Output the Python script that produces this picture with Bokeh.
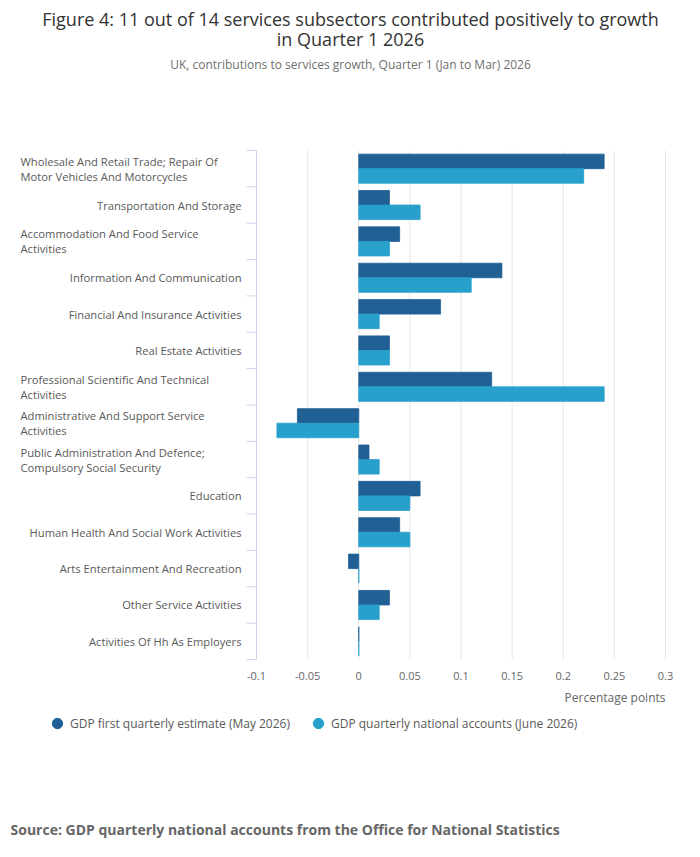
import math
from bokeh.plotting import figure
from bokeh.models import ColumnDataSource, Legend, LegendItem, Range1d, Label
from bokeh.embed import file_html
from bokeh.resources import INLINE
from bokeh.core.properties import value

# ---------------- data ----------------
categories = [
    "Wholesale And Retail Trade; Repair Of\nMotor Vehicles And Motorcycles",
    "Transportation And Storage",
    "Accommodation And Food Service\nActivities",
    "Information And Communication",
    "Financial And Insurance Activities",
    "Real Estate Activities",
    "Professional Scientific And Technical\nActivities",
    "Administrative And Support Service\nActivities",
    "Public Administration And Defence;\nCompulsory Social Security",
    "Education",
    "Human Health And Social Work Activities",
    "Arts Entertainment And Recreation",
    "Other Service Activities",
    "Activities Of Hh As Employers",
]
first_estimate = [0.24, 0.03, 0.04, 0.14, 0.08, 0.03, 0.13, -0.06, 0.01, 0.06, 0.04, -0.01, 0.03, 0.0]
national_accounts = [0.22, 0.06, 0.03, 0.11, 0.02, 0.03, 0.24, -0.08, 0.02, 0.05, 0.05, 0.0, 0.02, 0.0]
series_names = ["GDP first quarterly estimate (May 2026)", "GDP quarterly national accounts (June 2026)"]
series_colors = ["#206095", "#27a0cc"]
x_ticks = [-0.1, -0.05, 0, 0.05, 0.1, 0.15, 0.2, 0.25, 0.3]
x_tick_labels = ["-0.1", "-0.05", "0", "0.05", "0.1", "0.15", "0.2", "0.25", "0.3"]

title_lines = ["Figure 4: 11 out of 14 services subsectors contributed positively to growth", "in Quarter 1 2026"]
subtitle = "UK, contributions to services growth, Quarter 1 (Jan to Mar) 2026"
x_axis_title = "Percentage points"
source_text = "Source:  GDP quarterly national accounts from the Office for National Statistics"

FONT = "Open Sans"
n = len(categories)
X_MIN, X_MAX = x_ticks[0], x_ticks[-1]

# ---------------- layout (pixels) ----------------
W, H = 684, 840
PL, PR, PT, PB = 256, 665, 150, 659          # plot area inside the canvas
kx = (PR - PL) / (X_MAX - X_MIN)
ky = (PB - PT) / n
xr = Range1d(X_MIN - PL / kx, X_MIN + (W - PL) / kx)
yr = Range1d(-(H - PB) / ky, n + PT / ky)

def dx(px):
    return X_MIN + (px - PL) / kx

def dy(py):
    return n - (py - PT) / ky

p = figure(width=W, height=H, output_backend="svg", toolbar_location=None, title_location=None,
           x_axis_location=None, y_axis_location=None, x_range=xr, y_range=yr,
           min_border=0, min_border_left=0, min_border_right=0, min_border_top=0, min_border_bottom=0)
p.outline_line_color = None
p.background_fill_color = "white"
p.border_fill_color = "white"
p.xgrid.visible = False
p.ygrid.visible = False

centers = [n - i - 0.5 for i in range(n)]
boundaries = list(range(n + 1))

# grid lines
p.segment(x0=x_ticks, x1=x_ticks, y0=[0] * len(x_ticks), y1=[n] * len(x_ticks),
          line_color="#e6e6e6", line_width=1)

# bars
offset, bar_h = 0.2, 0.4
src1 = ColumnDataSource(dict(y=[c + offset for c in centers], v=first_estimate))
src2 = ColumnDataSource(dict(y=[c - offset for c in centers], v=national_accounts))
p.hbar(y="y", left=0, right="v", height=bar_h, source=src1,
       fill_color=series_colors[0], line_color=series_colors[0], line_width=0.8)
p.hbar(y="y", left=0, right="v", height=bar_h, source=src2,
       fill_color=series_colors[1], line_color=series_colors[1], line_width=0.8)

# category axis: line + ticks at category boundaries
p.segment(x0=[X_MIN], x1=[X_MIN], y0=[0], y1=[n], line_color="#ccd6eb", line_width=1)
p.ray(x=[X_MIN] * len(boundaries), y=boundaries, length=10, length_units="screen",
      angle=math.pi, line_color="#ccd6eb", line_width=1)

# category labels
single_y, single_t = [], []
wrap_y, wrap_t, wrap_off = [], [], []
for c, cat in zip(centers, categories):
    lines = cat.split("\n")
    if len(lines) == 1:
        single_y.append(c); single_t.append(cat)
    else:
        for k, line in enumerate(lines):
            wrap_y.append(c); wrap_t.append(line); wrap_off.append(-7.5 + 15 * k)
p.text(x=[X_MIN] * len(single_y), y=single_y, text=single_t, x_offset=-15,
       text_align="right", text_baseline="middle", text_font=value(FONT),
       text_font_size="11.2px", text_color="#595959")
p.text(x=[dx(20)] * len(wrap_y), y=wrap_y, text=wrap_t, y_offset=wrap_off,
       text_align="left", text_baseline="middle", text_font=value(FONT),
       text_font_size="11.2px", text_color="#595959")

# x tick labels
p.text(x=x_ticks, y=[0] * len(x_ticks), text=x_tick_labels, y_offset=16,
       text_align="center", text_baseline="middle", text_font=value(FONT),
       text_font_size="11px", text_color="#666666")

# texts
def add_label(text, px, py, size, color, align="center", style="normal"):
    p.add_layout(Label(x=dx(px), y=dy(py), text=text, text_align=align, text_baseline="middle",
                       text_font=FONT, text_font_size=size, text_color=color,
                       text_font_style=style))

add_label(title_lines[0], 350, 18, "18px", "#333333")
add_label(title_lines[1], 350, 38, "18px", "#333333")
add_label(subtitle, 350, 64, "12px", "#707070")
add_label(x_axis_title, PR, 697, "12px", "#666666", align="right")
add_label(source_text, 10, 829, "14px", "#666666", align="left", style="bold")

# legend (marker renderers hold no visible point; they only provide the legend glyphs)
nan = float("nan")
lr1 = p.scatter(x=[nan], y=[nan], marker="circle", fill_color=series_colors[0], line_color=series_colors[0])
lr2 = p.scatter(x=[nan], y=[nan], marker="circle", fill_color=series_colors[1], line_color=series_colors[1])
legend = Legend(items=[LegendItem(label=series_names[0], renderers=[lr1]),
                       LegendItem(label=series_names[1], renderers=[lr2])],
                orientation="horizontal", location=(44, H - 736),
                glyph_width=26, glyph_height=26, label_standoff=0, spacing=15,
                padding=0, margin=0, border_line_color=None, background_fill_alpha=0,
                label_text_font=FONT, label_text_font_size="12px", label_text_color="#595959")
p.add_layout(legend, "center")

open("out.html", "w").write(file_html(p, INLINE))
